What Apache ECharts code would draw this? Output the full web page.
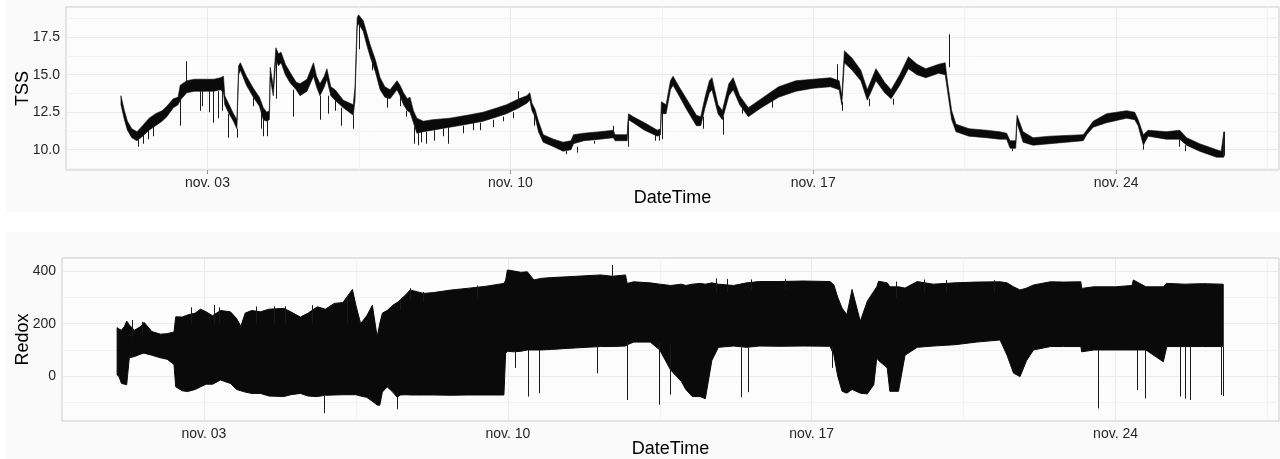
<!DOCTYPE html>
<html><head><meta charset="utf-8">
<script src="https://cdn.jsdelivr.net/npm/echarts@6/dist/echarts.min.js"></script>
<style>html,body{margin:0;padding:0;background:#fff}#c{width:1280px;height:459px}</style>
</head><body><div id="c"></div><script>
// x values: day of November (decimal)
const xTickDays = [3, 10, 17, 24];
const xTickLabels = ['nov. 03', 'nov. 10', 'nov. 17', 'nov. 24'];
const xMinorDays = [6.5, 13.5, 20.5, 27.5];

const tssTicks = [10, 12.5, 15, 17.5];
const tssTickLabels = ['10.0', '12.5', '15.0', '17.5'];
const tssMinor = [8.75, 11.25, 13.75, 16.25, 18.75];
const redoxTicks = [0, 200, 400];
const redoxTickLabels = ['0', '200', '400'];
const redoxMinor = [-100, 100, 300];

// TSS envelope (day, low, high)
const tssDay = [1.00,1.08,1.15,1.25,1.37,1.50,1.65,1.80,1.95,2.06,2.21,2.32,2.37,2.52,2.70,2.85,3.00,3.15,3.30,3.37,3.40,3.50,3.60,3.68,3.72,3.76,3.90,4.06,4.20,4.29,4.37,4.43,4.45,4.52,4.58,4.64,4.70,4.80,4.90,5.05,5.14,5.30,5.45,5.52,5.60,5.70,5.76,5.85,5.95,6.14,6.37,6.41,6.46,6.49,6.60,6.68,6.76,6.88,6.99,7.10,7.22,7.38,7.45,7.53,7.62,7.68,7.76,7.84,7.99,8.20,8.60,9.00,9.37,9.70,9.91,10.20,10.38,10.45,10.50,10.57,10.65,10.76,11.00,11.22,11.40,11.46,11.70,12.07,12.38,12.42,12.70,12.73,12.84,13.10,13.40,13.47,13.49,13.60,13.70,13.76,13.90,14.07,14.30,14.40,14.50,14.60,14.66,14.80,14.90,15.05,15.15,15.30,15.50,15.80,16.20,16.60,17.00,17.40,17.60,17.66,17.72,17.90,18.10,18.25,18.45,18.65,18.80,19.00,19.20,19.40,19.60,19.90,20.05,20.10,20.20,20.30,20.60,21.00,21.31,21.47,21.55,21.68,21.71,21.85,22.08,22.47,23.24,23.32,23.47,23.78,24.24,24.43,24.51,24.63,24.74,25.16,25.47,25.63,25.93,26.32,26.43,26.49];
const tssLow = [13.0,12.0,11.3,10.8,10.6,10.9,11.3,11.6,11.9,12.2,12.8,13.0,13.3,13.8,13.9,13.9,13.9,13.9,14.0,13.8,13.0,12.4,11.9,11.4,15.0,15.3,14.3,13.5,12.9,12.0,11.9,12.0,14.8,13.6,16.0,15.6,15.8,15.0,14.5,14.0,13.6,13.9,14.9,14.2,13.6,14.2,14.7,13.6,13.3,12.8,12.3,13.3,18.2,18.4,17.9,17.0,16.2,15.2,14.0,13.5,13.4,14.0,13.6,13.0,12.6,12.5,11.8,11.1,11.2,11.3,11.5,11.7,11.9,12.2,12.4,12.8,13.1,13.3,12.6,12.2,11.2,10.5,10.2,9.9,10.0,10.4,10.6,10.7,10.8,10.6,10.6,12.0,11.8,11.3,10.9,11.0,12.4,12.4,14.0,14.3,13.6,12.7,11.6,11.6,12.8,13.8,14.0,12.4,12.0,13.6,14.0,13.0,12.2,12.8,13.5,13.9,14.1,14.2,14.0,13.0,15.8,15.3,14.6,13.3,14.6,13.8,13.4,14.3,15.4,15.0,14.8,15.1,15.0,14.0,12.0,11.2,10.9,10.8,10.7,10.7,10.1,10.1,11.8,10.5,10.3,10.4,10.6,11.0,11.5,11.8,12.1,12.0,11.6,10.3,10.9,10.7,10.7,10.3,9.9,9.5,9.5,9.5];
const tssHigh = [13.6,12.6,11.9,11.4,11.2,11.6,12.1,12.4,12.6,12.9,13.4,13.5,14.3,14.6,14.7,14.7,14.7,14.7,14.8,14.9,13.6,13.0,12.4,12.0,15.6,15.8,14.9,14.1,13.5,12.8,12.5,12.6,15.5,14.2,16.8,16.4,16.5,15.7,15.2,14.5,14.4,14.7,15.8,14.9,14.4,14.9,15.4,14.2,14.0,13.3,13.0,14.2,18.8,19.0,18.6,17.8,17.0,16.0,14.8,14.2,14.0,14.6,14.3,13.8,13.4,13.5,12.6,12.1,11.9,12.0,12.1,12.3,12.5,12.8,13.0,13.4,13.6,13.8,13.1,12.7,11.9,11.0,10.7,10.5,10.6,11.0,11.1,11.2,11.3,11.0,11.0,12.4,12.2,11.8,11.3,11.4,13.2,13.0,14.6,14.9,14.2,13.4,12.3,12.2,13.5,14.6,14.8,13.0,12.6,14.4,14.8,13.6,12.8,13.4,14.2,14.6,14.7,14.8,14.6,13.6,16.6,16.1,15.3,14.0,15.4,14.5,14.0,15.0,16.2,15.7,15.4,15.7,15.8,14.6,12.6,11.7,11.4,11.3,11.2,11.1,10.6,10.6,12.3,11.2,10.8,10.9,11.0,11.3,11.9,12.4,12.6,12.5,12.0,11.0,11.3,11.2,11.3,10.8,10.4,10.0,9.9,11.2];
// TSS isolated spikes (day, from, to)
const tssSpikeDay = [1.41,1.52,1.62,1.75,2.37,2.52,2.83,2.88,3.05,3.14,3.25,3.33,3.48,3.68,4.06,4.25,4.29,4.37,4.60,4.99,5.60,5.80,5.96,6.10,6.37,6.50,6.80,7.15,7.45,7.60,7.79,7.87,7.95,8.06,8.25,8.45,8.56,8.91,9.15,9.30,9.60,9.84,10.07,10.18,10.55,11.30,11.54,11.93,12.38,12.73,13.35,13.43,13.50,14.45,14.92,15.35,16.05,17.55,17.66,18.30,18.85,20.15,21.60,24.63,25.45,25.60,26.49];
const tssSpikeFrom = [10.8,11.0,11.3,11.6,13.6,14.6,13.9,13.9,13.9,13.9,13.9,14.0,12.4,11.4,13.5,12.8,12.0,11.9,16.0,14.0,13.6,13.6,13.3,12.8,12.3,18.4,16.0,13.5,13.6,12.6,11.5,11.1,11.2,11.2,11.3,11.4,11.5,11.6,11.8,11.8,12.0,12.2,12.5,12.8,12.5,9.9,10.2,10.6,11.0,12.0,11.0,11.0,12.4,12.2,12.2,13.0,13.3,14.6,13.2,13.4,13.4,15.5,10.1,10.3,10.7,10.3,9.6];
const tssSpikeTo = [10.2,10.4,10.7,10.9,11.6,15.9,12.6,12.9,12.5,11.8,12.1,12.6,10.8,10.8,12.9,11.4,10.9,10.9,13.4,12.2,12.0,12.4,12.6,11.6,11.4,16.7,15.3,12.8,12.9,12.2,10.4,10.3,10.5,10.4,10.6,10.9,10.4,11.1,11.3,11.3,11.5,11.9,12.1,13.9,11.6,9.7,9.8,10.4,11.6,10.2,10.6,10.6,10.7,11.4,11.0,12.4,12.8,15.7,12.6,12.9,13.0,17.7,9.9,10.0,10.2,9.9,11.2];

// Redox envelope (day, low, high)
const redoxDay = [1.00,1.04,1.10,1.17,1.22,1.28,1.40,1.55,1.62,1.80,2.00,2.15,2.31,2.35,2.50,2.62,2.80,2.92,3.05,3.20,3.38,3.61,3.75,3.85,3.95,4.10,4.30,4.50,4.84,5.00,5.22,5.40,5.61,5.80,6.00,6.20,6.42,6.50,6.61,6.75,6.88,6.99,7.05,7.11,7.22,7.35,7.45,7.52,7.65,7.75,8.06,8.29,8.70,9.06,9.50,9.91,9.95,9.99,10.14,10.30,10.45,10.60,10.76,11.00,11.37,11.80,12.14,12.41,12.71,12.75,12.90,13.28,13.50,13.75,14.00,14.10,14.25,14.43,14.55,14.70,14.85,15.20,15.50,15.80,16.27,16.80,17.42,17.51,17.60,17.70,17.81,17.93,18.12,18.28,18.43,18.50,18.54,18.74,18.80,19.00,19.15,19.43,19.80,20.30,20.80,21.34,21.50,21.65,21.80,21.95,22.11,22.50,22.80,23.20,23.22,23.50,24.00,24.38,24.41,24.70,25.10,25.18,25.60,26.00,26.48];
const redoxLow = [5,0,-27,-30,-32,70,75,85,88,80,70,65,45,-40,-55,-58,-50,-40,-30,-30,-14,-27,-50,-55,-60,-65,-65,-75,-77,-70,-65,-75,-77,-72,-71,-70,-70,-70,-75,-80,-95,-109,-110,-60,-40,-60,-80,-71,-70,-71,-71,-71,-72,-71,-71,-71,87,95,93,95,100,100,100,102,106,110,113,113,115,120,130,130,100,24,-20,-50,-77,-77,-85,60,110,115,110,115,114,115,114,82,0,-57,-64,-50,-64,-67,-32,70,60,32,-57,-57,80,110,115,120,130,138,80,12,-1,60,100,113,113,113,93,100,100,100,100,100,55,113,113,113,113];
const redoxHigh = [185,180,175,190,210,195,175,190,205,170,160,162,168,226,225,233,240,255,245,230,250,245,220,190,240,250,245,255,258,245,225,240,264,255,277,280,330,270,200,230,270,150,200,240,250,270,280,290,310,328,315,318,328,334,342,353,365,404,400,395,397,366,372,375,378,382,385,380,385,353,359,355,350,345,350,345,350,353,350,355,350,345,355,360,360,362,360,348,300,259,234,330,209,285,323,340,361,355,340,340,335,360,350,355,358,359,355,340,328,335,347,359,358,359,334,340,340,345,366,340,340,353,350,352,350];
// Redox isolated spikes (day, from, to)
const redoxSpikeDay = [1.35,1.57,2.70,3.23,3.35,4.20,4.61,4.88,5.50,5.76,6.30,7.45,7.52,7.75,8.06,9.30,10.18,10.48,10.72,12.06,12.41,12.75,13.48,13.75,14.80,15.05,15.38,15.55,15.60,16.40,17.47,18.95,19.60,20.10,21.20,23.61,24.49,24.68,25.49,25.60,25.72,26.43,26.48];
const redoxSpikeFrom = [150,150,200,200,200,200,200,200,200,-60,200,-60,250,290,280,300,100,100,100,113,380,130,130,120,320,320,110,110,330,330,114,300,320,320,320,100,100,100,113,113,113,113,113];
const redoxSpikeTo = [214,207,262,271,262,265,266,266,270,-140,300,-125,290,335,320,345,32,-77,-64,11,423,-90,-108,-70,372,370,-80,-60,368,370,32,360,368,366,365,-122,-52,-84,-77,-85,-90,-71,-75];

const rows = (d, lo, hi) => d.map((v, i) => [v, lo[i], hi[i]]);
const spikes = (d, f, t) => d.map((v, i) => ({ coords: [[v, f[i]], [v, t[i]]] }));

const X_MIN = -0.27, X_MAX = 27.765;
const LBL = '#262626', TICK = '#9a9a9a', MAJ = '#ebebeb', MIN = '#f3f3f3';
const INK = '#0a0a0a';
const FONT = '"Liberation Sans", Arial, sans-serif';

function gridLines(xs, ys, color) {
  return xs.map(v => ({ xAxis: v, lineStyle: { color: color, width: 1, type: 'solid' } }))
    .concat(ys.map(v => ({ yAxis: v, lineStyle: { color: color, width: 1, type: 'solid' } })));
}

function xAxisCfg(gi) {
  return {
    type: 'value', gridIndex: gi, min: X_MIN, max: X_MAX,
    axisLine: { show: false },
    axisTick: { show: true, customValues: xTickDays, length: 4, lineStyle: { color: TICK } },
    axisLabel: { customValues: xTickDays, margin: 6, fontSize: 14, color: LBL, fontFamily: FONT,
      formatter: v => xTickLabels[xTickDays.indexOf(v)] },
    splitLine: { show: false }, minorSplitLine: { show: false },
    name: 'DateTime', nameLocation: 'middle', nameGap: 19, nameMoveOverlap: false,
    nameTextStyle: { fontSize: 18, color: '#000', fontFamily: FONT }
  };
}
function yAxisCfg(gi, min, max, ticks, labels, name, gap) {
  return {
    type: 'value', gridIndex: gi, min: min, max: max,
    axisLine: { show: false },
    axisTick: { show: true, customValues: ticks, length: 4, lineStyle: { color: TICK } },
    axisLabel: { customValues: ticks, margin: 6, fontSize: 14, color: LBL, fontFamily: FONT,
      formatter: v => labels[ticks.indexOf(v)] },
    splitLine: { show: false },
    name: name, nameLocation: 'middle', nameGap: gap, nameRotate: 90, nameMoveOverlap: false,
    nameTextStyle: { fontSize: 18, color: '#000', fontFamily: FONT }
  };
}

// band between low and high envelopes, drawn as one polygon through the axes' scales
function bandSeries(gi, days, low, high, majorY, minorY, strokeW) {
  const data = rows(days, low, high);
  return {
    type: 'custom', xAxisIndex: gi, yAxisIndex: gi, z: 3, animation: false, silent: true,
    encode: { x: 0, y: [1, 2] },
    data: data,
    renderItem: function (params, api) {
      if (params.dataIndex !== 0) return null;
      const pts = [];
      for (let i = 0; i < data.length; i++) pts.push(api.coord([data[i][0], data[i][1]]));
      for (let i = data.length - 1; i >= 0; i--) pts.push(api.coord([data[i][0], data[i][2]]));
      return { type: 'polygon', shape: { points: pts }, style: { fill: INK, stroke: INK, lineWidth: strokeW, lineJoin: 'miter' } };
    },
    markLine: { silent: true, symbol: 'none', z: 1, animation: false, label: { show: false },
      emphasis: { disabled: true },
      data: gridLines(xMinorDays, minorY, MIN).concat(gridLines(xTickDays, majorY, MAJ)) }
  };
}

const chart = echarts.init(document.getElementById('c'), null, { renderer: 'canvas' });
chart.setOption({
  backgroundColor: '#ffffff',
  animation: false,
  textStyle: { fontFamily: FONT },
  graphic: [
    { type: 'rect', z: -10, shape: { x: 6, y: 0, width: 1274, height: 212 }, style: { fill: '#fafafa' }, silent: true },
    { type: 'rect', z: -10, shape: { x: 6, y: 232, width: 1274, height: 227 }, style: { fill: '#fafafa' }, silent: true }
  ],
  grid: [
    { left: 66, top: 7, width: 1213, height: 163, show: true, backgroundColor: '#fcfcfc', borderColor: '#cccccc', borderWidth: 1, outerBoundsMode: 'none' },
    { left: 62, top: 258, width: 1217, height: 163, show: true, backgroundColor: '#fcfcfc', borderColor: '#cccccc', borderWidth: 1, outerBoundsMode: 'none' }
  ],
  xAxis: [xAxisCfg(0), xAxisCfg(1)],
  yAxis: [
    yAxisCfg(0, 8.645, 19.52, tssTicks, tssTickLabels, 'TSS', 34),
    yAxisCfg(1, -169.8, 449.4, redoxTicks, redoxTickLabels, 'Redox', 30)
  ],
  series: [
    bandSeries(0, tssDay, tssLow, tssHigh, tssTicks, tssMinor, 0.6),
    { type: 'lines', coordinateSystem: 'cartesian2d', xAxisIndex: 0, yAxisIndex: 0, z: 3,
      data: spikes(tssSpikeDay, tssSpikeFrom, tssSpikeTo), lineStyle: { color: '#1a1a1a', width: 1, opacity: 1 }, animation: false },
    bandSeries(1, redoxDay, redoxLow, redoxHigh, redoxTicks, redoxMinor, 1),
    { type: 'lines', coordinateSystem: 'cartesian2d', xAxisIndex: 1, yAxisIndex: 1, z: 3,
      data: spikes(redoxSpikeDay, redoxSpikeFrom, redoxSpikeTo), lineStyle: { color: '#1a1a1a', width: 1, opacity: 1 }, animation: false }
  ]
});
</script></body></html>
